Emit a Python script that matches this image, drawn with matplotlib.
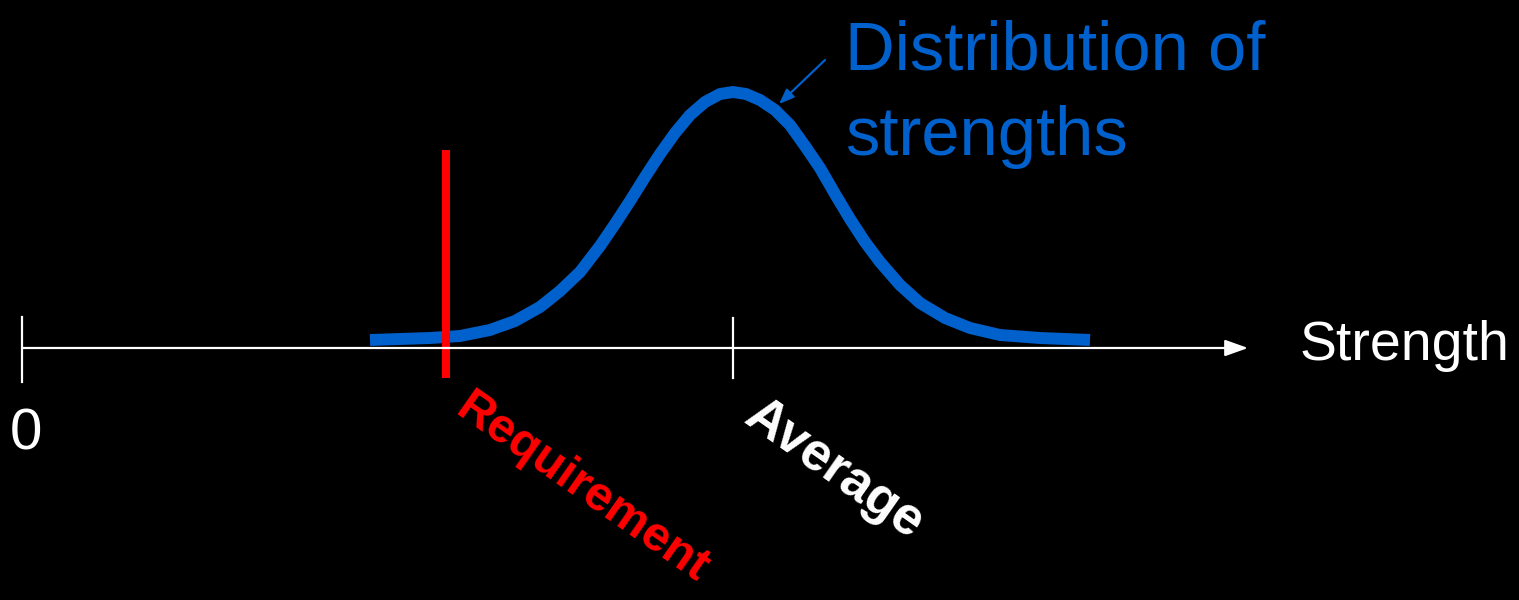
import matplotlib.pyplot as plt

# curve (x, height in canvas units, y grows downward)
curve_x = [370, 400, 430, 460, 490, 515, 540, 560, 580, 600, 615, 630, 645,
           660, 675, 690, 705, 720, 733, 746, 760, 775, 790, 805, 820, 835,
           850, 865, 880, 900, 920, 945, 970, 1000, 1040, 1090]
curve_y = [340, 339, 338, 336, 330, 321, 307, 291, 272, 246, 224, 201, 177,
           154, 133, 115, 102, 94, 92, 94, 100, 110, 125, 146, 168, 194,
           219, 242, 262, 285, 303, 318, 328, 335, 338, 340]

axis_start, axis_end, axis_y = 22, 1248, 348
zero_x = 22
average_x = 733
requirement_x = 446
blue = '#0060CC'

font = ['Liberation Sans', 'DejaVu Sans']

fig = plt.figure(figsize=(15.19, 6), dpi=100, facecolor='black')
ax = fig.add_axes([0, 0, 1, 1])
ax.set_facecolor('black')
ax.set_xlim(0, 1519)
ax.set_ylim(600, 0)
ax.axis('off')

# horizontal strength axis with arrow
ax.annotate('', xy=(axis_end, axis_y), xytext=(axis_start, axis_y),
            arrowprops=dict(arrowstyle='-|>,head_length=1.4,head_width=0.5',
                            color='white', lw=1.6, shrinkA=0, shrinkB=0))
ax.plot([zero_x, zero_x], [317, 382], color='white', lw=1.6)
ax.plot([average_x, average_x], [318, 378], color='white', lw=1.6)

# distribution curve
ax.plot(curve_x, curve_y, color=blue, lw=8.6, solid_capstyle='butt',
        solid_joinstyle='round')

# requirement line
ax.plot([requirement_x, requirement_x], [150, 378], color='#FF0000', lw=5.8,
        solid_capstyle='butt')

# labels
ax.text(26, 450, '0', color='white', fontsize=42, family=font,
        ha='center', va='baseline')
ax.text(1300, 360, 'Strength', color='white', fontsize=40, family=font,
        ha='left', va='baseline')
ax.text(845, 70, 'Distribution of', color=blue, fontsize=49.5, family=font,
        ha='left', va='baseline')
ax.text(845, 155, 'strengths', color=blue, fontsize=49.5, family=font,
        ha='left', va='baseline')
ax.annotate('', xy=(779, 104), xytext=(825, 60),
            arrowprops=dict(arrowstyle='-|>,head_length=0.9,head_width=0.35',
                            color=blue, lw=1.6, shrinkA=0, shrinkB=0))

ax.text(474, 385, 'Requirement', color='#FF0000', fontsize=35,
        fontweight='bold', family=font, rotation=-35,
        rotation_mode='anchor', ha='left', va='top')
ax.text(764, 390, 'Average', color='white', fontsize=38,
        fontweight='bold', family=font, rotation=-35,
        rotation_mode='anchor', ha='left', va='top')

fig.savefig('out.png', dpi=100, facecolor='black')
